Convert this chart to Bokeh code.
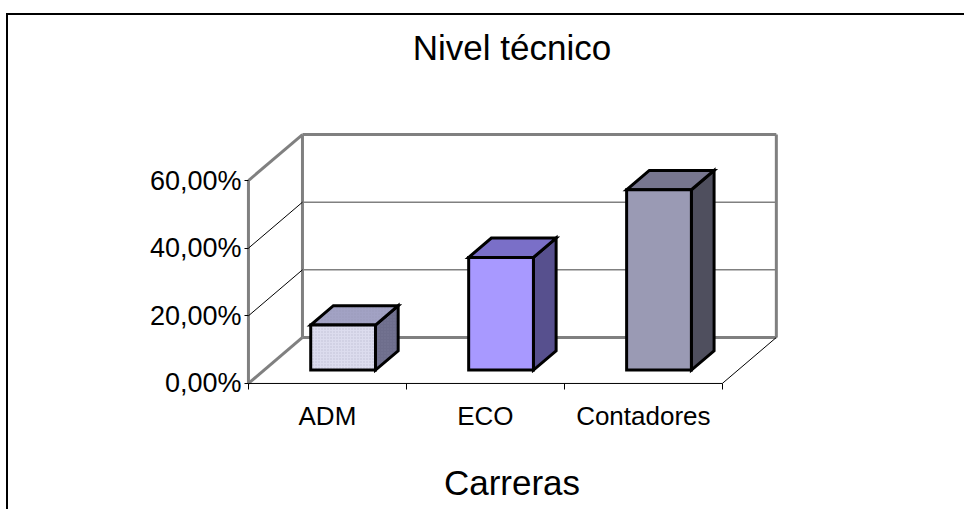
from bokeh.plotting import figure
from bokeh.models import Range1d, FixedTicker, Title
from bokeh.embed import file_html
from bokeh.resources import INLINE

# --- data -------------------------------------------------------------
categories = ["ADM", "ECO", "Contadores"]
values = [13.33, 33.33, 53.33]              # percent
y_ticks = [0, 20, 40, 60]
y_tick_labels = ["0,00%", "20,00%", "40,00%", "60,00%"]

front_colors = ["#dcdcee", "#a899ff", "#9a9ab4"]
top_colors = ["#a2a2c4", "#7a6fc8", "#77768f"]
side_colors = ["#6e6e8c", "#57508e", "#4f4f5e"]

# --- 3-D box geometry (oblique projection, data units) ------------------
n = len(categories)
y_max = y_ticks[-1]
DX = 0.342          # depth shift along x (category units)
DY = 13.6           # depth shift along y (percent units)
F = 0.29            # front face of bars, as a fraction of the depth
D = 0.42            # bar depth, as a fraction of the depth
W = 0.41            # bar width (category units)

FONT = "Liberation Sans"

p = figure(width=958, height=496, output_backend="svg", toolbar_location=None,
           x_range=Range1d(-0.025, n + DX + 0.02),
           y_range=Range1d(-0.9, y_max + DY + 0.9),
           min_border_left=236, min_border_right=187,
           min_border_top=116, min_border_bottom=125,
           title=None)
# chart-area frame: a 2px black edge along the top and the left of the figure
p.styles = {"margin-left": "8px", "margin-top": "15px",
            "box-shadow": "-2px -2px 0px 0px #000000"}
p.grid.visible = False
p.outline_line_color = None
p.background_fill_color = "white"
p.border_fill_color = "white"

# blank band between the chart title and the plot area
p.add_layout(Title(text=" ", text_font_size="1px", standoff=55), "above")
p.add_layout(Title(text="Nivel técnico", align="center", vertical_align="top",
                   text_font=FONT, text_font_size="35px",
                   text_font_style="normal", text_color="black", standoff=10),
             "above")

# --- walls and floor ----------------------------------------------------
# thick grey outline of the side wall, back wall and floor
gx0 = [0, 0, 0, DX, DX, n + DX, DX]
gy0 = [0, 0, y_max, DY, y_max + DY, DY, DY]
gx1 = [0, DX, DX, DX, n + DX, n + DX, n + DX]
gy1 = [y_max, DY, y_max + DY, y_max + DY, y_max + DY, y_max + DY, DY]
p.segment(gx0, gy0, gx1, gy1, line_color="#808080", line_width=3)

inner = y_ticks[1:-1]
# back-wall gridlines
p.segment([DX] * len(inner), [t + DY for t in inner],
          [n + DX] * len(inner), [t + DY for t in inner],
          line_color="#808080", line_width=1.5)
# side-wall gridlines
p.segment([0] * len(inner), inner, [DX] * len(inner), [t + DY for t in inner],
          line_color="black", line_width=1)
# front and right edges of the floor
p.segment([0, n], [0, 0], [n, n + DX], [0, DY], line_color="black", line_width=1)

# --- bars ---------------------------------------------------------------
for i, v in enumerate(values):
    c = i + 0.5
    x0 = c - W / 2 + F * DX
    x1 = c + W / 2 + F * DX
    yb = F * DY
    yt = v + F * DY
    ddx, ddy = D * DX, D * DY
    hatch = dict(hatch_pattern="dot", hatch_scale=3, hatch_color="#8c8ca8",
                 hatch_alpha=0.35) if i == 0 else {}
    # side face
    p.patch([x1, x1, x1 + ddx, x1 + ddx], [yb, yt, yt + ddy, yb + ddy],
            fill_color=side_colors[i], line_color="black", line_width=3,
            line_join="miter", **hatch)
    # top face
    p.patch([x0, x1, x1 + ddx, x0 + ddx], [yt, yt, yt + ddy, yt + ddy],
            fill_color=top_colors[i], line_color="black", line_width=3,
            line_join="miter", **hatch)
    # front face
    p.patch([x0, x1, x1, x0], [yb, yb, yt, yt],
            fill_color=front_colors[i], line_color="black", line_width=3,
            line_join="miter", **hatch)

# --- axes ---------------------------------------------------------------
ya = p.yaxis[0]
ya.ticker = FixedTicker(ticks=y_ticks)
ya.major_label_overrides = dict(zip(y_ticks, y_tick_labels))
ya.axis_line_color = None
ya.major_tick_in = 4
ya.major_tick_out = 0
ya.major_tick_line_color = "black"
ya.minor_tick_line_color = None
ya.major_label_standoff = 3
ya.major_label_text_font = FONT
ya.major_label_text_font_size = "27px"
ya.major_label_text_color = "black"

centers = [i + 0.5 for i in range(n)]
bounds = list(range(n + 1))
xa = p.xaxis[0]
xa.ticker = FixedTicker(ticks=centers, minor_ticks=bounds)
xa.major_label_overrides = dict(zip(centers, categories))
xa.axis_line_color = None
xa.major_tick_line_color = None
xa.major_tick_in = 0
xa.major_tick_out = 0
xa.minor_tick_line_color = "black"
xa.minor_tick_in = 3
xa.minor_tick_out = 3
xa.major_label_standoff = 11
xa.major_label_text_font = FONT
xa.major_label_text_font_size = "26px"
xa.major_label_text_color = "black"
xa.axis_label = "Carreras"
xa.axis_label_text_font = FONT
xa.axis_label_text_font_size = "35px"
xa.axis_label_text_font_style = "normal"
xa.axis_label_text_color = "black"
xa.axis_label_standoff = 29

open("out.html", "w").write(file_html(p, INLINE))
